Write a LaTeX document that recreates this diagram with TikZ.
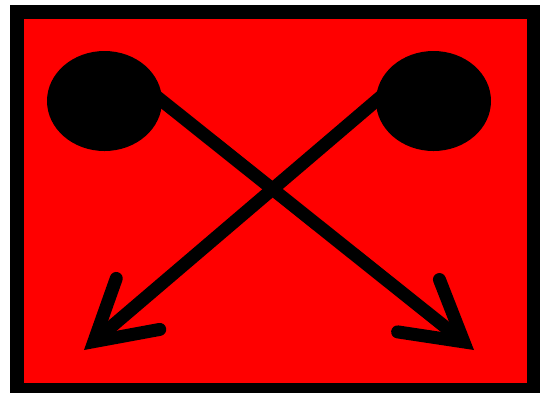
\documentclass[tikz,border=0pt]{standalone}
\usepackage{tikz}
\usetikzlibrary{positioning,arrows.meta,shapes.geometric,backgrounds}
\pgfdeclarelayer{foreground}
\pgfsetlayers{background,main,foreground}

\begin{document}
\begin{tikzpicture}[
        x=1pt, y=-1pt,
        ball/.style={
            ellipse,
            fill=black,
            minimum width=115pt,
            minimum height=100pt,
            inner sep=0pt
        },
        pointer/.style={
            line width=13pt,
            shorten <=-20pt,
            -{Straight Barb[length=58pt, width=67pt, line cap=round, line join=miter]}
        }
    ]
        \useasboundingbox (0,0) rectangle (540,392);
        % frame
        \begin{scope}[on background layer]
            \draw[line width=14pt, fill=red] (16.5,12) rectangle (533.5,390);
        \end{scope}
        % balls and arrows
        \begin{pgfonlayer}{foreground}
            \node[ball] (leftball) at (104.5,101) {};
            \node[ball] (rightball) at (433.5,101) {};
        \end{pgfonlayer}
        \coordinate (lefttip) at (84,350);
        \coordinate (righttip) at (474,350);
        \draw[pointer] (leftball.east) -- (righttip);
        \draw[pointer] (rightball.west) -- (lefttip);
    \end{tikzpicture}
\end{document}
